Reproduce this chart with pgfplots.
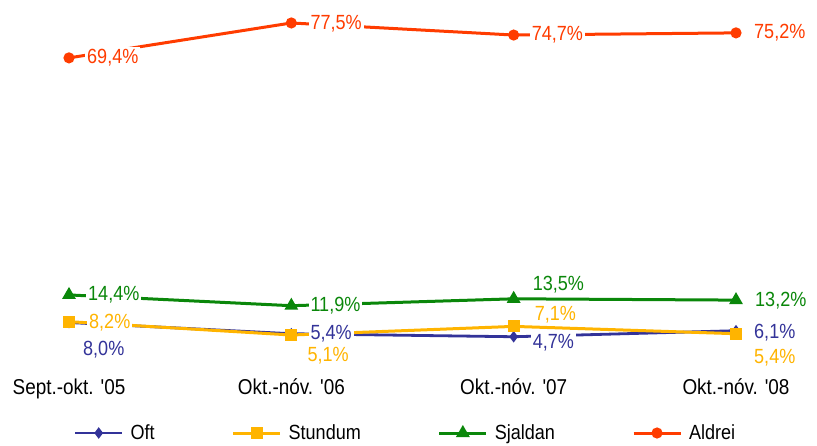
\documentclass[border=0pt]{standalone}
\usepackage{pgfplots}
\usepackage{pgfplotstable}
\pgfplotsset{compat=1.18}
\usepackage{fontspec}
\setmainfont{Liberation Sans}[FakeStretch=0.88, Ligatures=TeXOff]
\definecolor{cOft}{HTML}{333399}
\definecolor{cStu}{HTML}{FFB400}
\definecolor{cSja}{HTML}{0A870A}
\definecolor{cAld}{HTML}{FF3C00}

\pgfplotstableread{
x y dx dy
0 8.0 12 -27
1 5.4 17 0
2 4.7 17 -6
3 6.1 16 -2
}\oft
\pgfplotstableread{
x y dx dy
0 8.2 18 -1
1 5.1 14 -21
2 7.1 19 12
3 5.4 16 -24
}\stundum
\pgfplotstableread{
x y dx dy
0 14.4 17 0
1 11.9 17 0
2 13.5 17 14
3 13.2 17 -1
}\sjaldan
\pgfplotstableread{
x y dx dy
0 69.4 16 0
1 77.5 17 -1
2 74.7 16 0
3 75.2 16 0
}\aldrei

\begin{document}
\begin{tikzpicture}
\begin{axis}[
  name=ax,
  scale only axis,
  width=817pt, height=357pt,
  xmin=-0.3103, xmax=3.3643,
  ymin=0, ymax=82.83,
  axis line style={draw=none},
  tick style={draw=none},
  clip=false,
  xtick={0,1,2,3},
  xticklabels={Sept.-okt. '05, Okt.-nóv. '06, Okt.-nóv. '07, Okt.-nóv. '08},
  xticklabel style={font=\fontsize{21.5}{23}\selectfont, anchor=base, yshift=-38pt},
  ytick=\empty,
  /pgf/number format/assume math mode=true,
  legend columns=4,
  legend style={draw=none, fill=none, at={(0.4963,-0.2129)}, anchor=center,
    font=\fontsize{20.5}{22}\selectfont,
    /tikz/every odd column/.append style={column sep=5pt},
    /tikz/every even column/.append style={column sep=75pt}},
  legend image code/.code={\draw[mark repeat=2,mark phase=2,#1] plot coordinates {(0pt,0pt) (23.5pt,0pt) (47pt,0pt)};},
  every node near coord/.append style={font=\fontsize{20.5}{22}\selectfont, fill=white, inner sep=2pt, anchor=west},
]
\pgfplotsset{
  lbl/.style={draw=none, mark=none, forget plot,
    nodes near coords={\pgfmathprintnumber[fixed, fixed zerofill, precision=1, use comma]{\pgfplotspointmeta}\%},
    point meta=explicit,
    visualization depends on={\thisrow{dx} \as \ldx},
    visualization depends on={\thisrow{dy} \as \ldy},
    every node near coord/.append style={text=#1, xshift=\ldx pt, yshift=\ldy pt}},
}
\addplot[cOft, line width=2.8pt, mark=diamond*, mark size=3.5pt] table[x=x,y=y] {\oft};
\addlegendentry{Oft}
\addplot[cStu, line width=3pt, mark=square*, mark size=4.5pt] table[x=x,y=y] {\stundum};
\addlegendentry{Stundum}
\addplot[cSja, line width=3pt, mark=triangle*, mark size=5pt] table[x=x,y=y] {\sjaldan};
\addlegendentry{Sjaldan}
\addplot[cAld, line width=3pt, mark=*, mark size=4pt] table[x=x,y=y] {\aldrei};
\addlegendentry{Aldrei}
\addplot[lbl=cOft] table[x=x,y=y,meta=y] {\oft};
\addplot[lbl=cStu] table[x=x,y=y,meta=y] {\stundum};
\addplot[lbl=cSja] table[x=x,y=y,meta=y] {\sjaldan};
\addplot[lbl=cAld] table[x=x,y=y,meta=y] {\aldrei};
\end{axis}
\pgfresetboundingbox
\path ([yshift=-89pt]ax.south west) rectangle (ax.north east);
\end{tikzpicture}
\end{document}
